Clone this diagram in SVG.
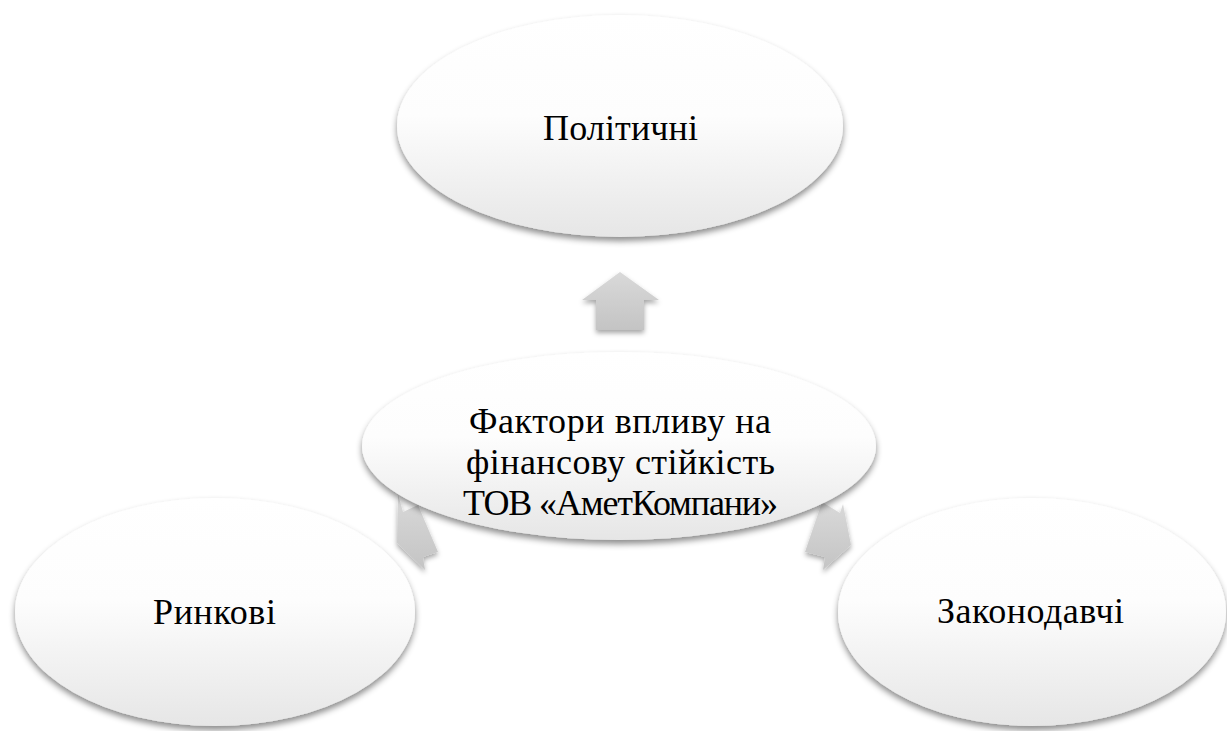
<svg xmlns="http://www.w3.org/2000/svg" width="1227" height="731" viewBox="0 0 1227 731" xml:lang="uk">
  <defs>
    <linearGradient id="ellFill" x1="0" y1="0" x2="0" y2="1">
      <stop offset="0" stop-color="#ffffff"/>
      <stop offset="0.45" stop-color="#fdfdfd"/>
      <stop offset="1" stop-color="#e6e6e6"/>
    </linearGradient>
    <linearGradient id="arrFill" x1="0" y1="0" x2="0" y2="1">
      <stop offset="0" stop-color="#d9d9d9"/>
      <stop offset="1" stop-color="#c4c4c4"/>
    </linearGradient>
    <filter id="shadow" x="-10%" y="-10%" width="120%" height="130%">
      <feDropShadow dx="0" dy="4" stdDeviation="3" flood-color="#000" flood-opacity="0.45"/>
    </filter>
    <filter id="ashadow" x="-30%" y="-30%" width="160%" height="160%">
      <feDropShadow dx="0" dy="3" stdDeviation="2.5" flood-color="#000" flood-opacity="0.35"/>
    </filter>
  </defs>
  <rect width="1227" height="731" fill="#fff"/>

  <g id="node-politychni">
    <ellipse fill="url(#ellFill)" filter="url(#shadow)" cx="620" cy="126" rx="223" ry="111"/>
    <text x="543" y="140" font-family="Liberation Serif, serif" font-size="36" font-style="normal" font-weight="normal" textLength="155">Політичні</text>
  </g>

  <g id="node-rynkovi">
    <ellipse fill="url(#ellFill)" filter="url(#shadow)" cx="215" cy="612" rx="200" ry="114"/>
    <text x="153" y="624" font-family="Liberation Serif, serif" font-size="36" font-style="normal" font-weight="normal" textLength="123">Ринкові</text>
  </g>

  <g id="node-zakonodavchi">
    <ellipse fill="url(#ellFill)" filter="url(#shadow)" cx="1032" cy="612" rx="194" ry="114"/>
    <text x="937" y="623" font-family="Liberation Serif, serif" font-size="36" font-style="normal" font-weight="normal" textLength="187">Законодавчі</text>
  </g>

  <g id="connectors">
    <polygon fill="url(#arrFill)" filter="url(#ashadow)" points="620,272 659,300 644,300 644,330 596,330 596,300 582,300"/>
    <polygon fill="url(#arrFill)" filter="url(#ashadow)" points="398,494 403,512 418,505 438,552 423,557 425,570 397,543"/>
    <polygon fill="url(#arrFill)" filter="url(#ashadow)" points="822,502 840,513 843,504 851,545 823,570 825,557 805,552"/>
  </g>

  <g id="node-center">
    <ellipse fill="url(#ellFill)" filter="url(#shadow)" cx="619" cy="446" rx="257" ry="94"/>
    <text x="469" y="433" font-family="Liberation Serif, serif" font-size="36" font-style="normal" font-weight="normal" textLength="302">Фактори впливу на</text>
    <text x="466" y="474" font-family="Liberation Serif, serif" font-size="36" font-style="normal" font-weight="normal" textLength="309">фінансову стійкість</text>
    <text x="463" y="515" font-family="Liberation Serif, serif" font-size="36" font-style="normal" font-weight="normal" textLength="315">ТОВ «АметКомпани»</text>
  </g>
</svg>
